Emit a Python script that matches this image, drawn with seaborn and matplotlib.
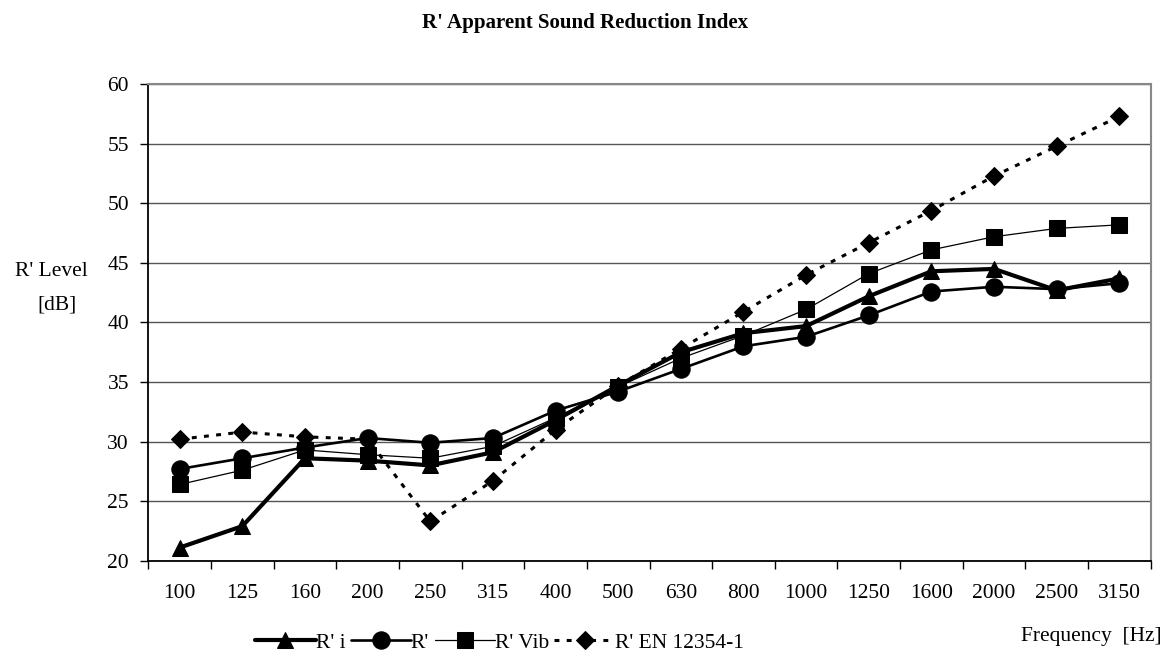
import numpy as np
import pandas as pd
import seaborn as sns
import matplotlib.pyplot as plt
from matplotlib.ticker import FixedLocator, NullFormatter

freqs = ["100", "125", "160", "200", "250", "315", "400", "500", "630",
         "800", "1000", "1250", "1600", "2000", "2500", "3150"]
r_i = [21.1, 22.9, 28.6, 28.4, 28.0, 29.1, 31.8, 34.7, 37.5, 39.1,
       39.7, 42.2, 44.3, 44.5, 42.7, 43.7]
r_prime = [27.7, 28.6, 29.5, 30.3, 29.9, 30.3, 32.6, 34.2, 36.1, 38.0,
           38.8, 40.6, 42.6, 43.0, 42.8, 43.3]
r_vib = [26.4, 27.6, 29.3, 28.9, 28.6, 29.6, 32.0, 34.6, 37.0, 38.9,
         41.1, 44.1, 46.1, 47.2, 47.9, 48.2]
r_en = [30.2, 30.8, 30.4, 30.2, 23.3, 26.7, 31.0, 34.7, 37.8, 40.9,
        44.0, 46.7, 49.4, 52.3, 54.8, 57.3]

series = {"R' i": r_i, "R'": r_prime, "R' Vib": r_vib, "R' EN 12354-1": r_en}

sns.set_style("white")
plt.rcParams['font.family'] = ['Liberation Serif', 'DejaVu Serif']
plt.rcParams['text.color'] = 'black'
plt.rcParams['xtick.color'] = 'black'
plt.rcParams['ytick.color'] = 'black'

fs = 15.5

fig = plt.figure(figsize=(11.7, 6.57), dpi=100)
ax = fig.add_axes([0.1268, 0.1466, 0.8567, 0.7251])

styles = {
    "R' i": dict(marker="^", markersize=12, linewidth=3.0, linestyle="-"),
    "R'": dict(marker="o", markersize=12.5, linewidth=1.9, linestyle="-"),
    "R' Vib": dict(marker="s", markersize=11, linewidth=0.9, linestyle="-"),
    "R' EN 12354-1": dict(marker="D", markersize=9.5, linewidth=2.2, linestyle=(0, (1.6, 2.4))),
}

x = np.arange(len(freqs))
for name, vals in series.items():
    df = pd.DataFrame({"x": x, "y": vals})
    st = styles[name]
    sns.lineplot(data=df, x="x", y="y", ax=ax, color="black", label=name,
                 marker=st["marker"], markersize=st["markersize"],
                 linewidth=st["linewidth"], linestyle=st["linestyle"],
                 markeredgecolor="black", markerfacecolor="black")

ax.set_xlim(-0.5, len(freqs) - 0.5)
ax.set_ylim(20, 60)
ax.set_yticks(np.arange(20, 61, 5))
ax.set_xticks(x)
ax.set_xticklabels(freqs)
ax.tick_params(axis="x", which="major", length=0, pad=17, labelsize=fs)
ax.xaxis.set_minor_locator(FixedLocator(np.arange(-0.5, len(freqs), 1.0)))
ax.xaxis.set_minor_formatter(NullFormatter())
ax.tick_params(axis="x", which="minor", length=6, width=1, color="black", direction="out", bottom=True)
ax.tick_params(axis="y", length=6, width=1, color="black", direction="out", left=True, labelsize=fs, pad=8)

ax.yaxis.grid(True, color="#555555", linewidth=1)
ax.xaxis.grid(False)
ax.set_axisbelow(True)
for s in ["left", "bottom"]:
    ax.spines[s].set_color("black")
    ax.spines[s].set_linewidth(1.3)
for s in ["top", "right"]:
    ax.spines[s].set_color("#888888")
    ax.spines[s].set_linewidth(1.5)

ax.set_xlabel("")
ax.set_ylabel("")
fig.text(51 / 1170, 1 - 272 / 657, "R' Level", ha="center", va="center", fontsize=fs)
fig.text(57 / 1170, 1 - 305 / 657, "[dB]", ha="center", va="center", fontsize=fs)
fig.text(0.5, 1 - 23 / 657, "R' Apparent Sound Reduction Index", ha="center",
         va="center", fontsize=15, fontweight="bold")
fig.text(1162 / 1170, 1 - 637 / 657, "Frequency  [Hz]", ha="right", va="center", fontsize=fs)

ax.legend(loc="center", bbox_to_anchor=((499 - 148) / 1002, -(643 - 561) / 477), ncol=4,
          frameon=False, fontsize=fs, handlelength=2.8, handletextpad=0.0,
          columnspacing=0.25, borderaxespad=0)

fig.savefig("out.png", dpi=100)
